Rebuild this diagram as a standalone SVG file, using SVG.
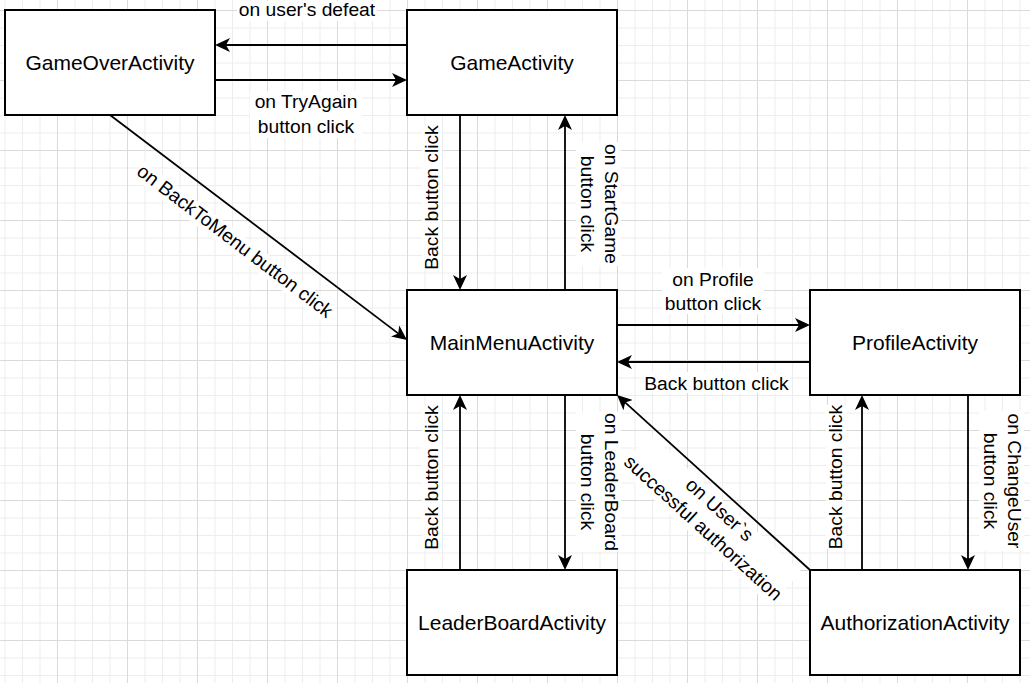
<svg xmlns="http://www.w3.org/2000/svg" width="1030" height="683" viewBox="0 0 1030 683">
<style>
.box{fill:#ffffff;stroke:#000000;stroke-width:2}
.nt{font-family:"Liberation Sans",Arial,sans-serif;font-size:21px;fill:#000000;text-anchor:middle}
.et{font-family:"Liberation Sans",Arial,sans-serif;font-size:19.25px;fill:#000000;text-anchor:middle}
.edge{fill:none;stroke:#000000;stroke-width:1.8}
.lbg{fill:#ffffff}
</style>
<defs>
<pattern id="grid" x="57" y="10" width="70" height="70" patternUnits="userSpaceOnUse">
<path d="M18,0V70M35.5,0V70M53,0V70M0,18H70M0,35.5H70M0,53H70" stroke="#ededed" stroke-width="1" fill="none"/>
<path d="M0.5,0V70M0,0.5H70" stroke="#dadada" stroke-width="1" fill="none"/>
</pattern>
<marker id="arr" markerUnits="userSpaceOnUse" viewBox="0 0 15 14" markerWidth="15" markerHeight="14" refX="6" refY="7" orient="auto">
<path d="M15,7L0,0L4,7L0,14Z" fill="#000000"/>
</marker>
</defs>
<rect width="1030" height="683" fill="#ffffff"/>
<rect width="1030" height="683" fill="url(#grid)"/>

<g id="connectors">
<path class="edge" d="M407,45H224" marker-end="url(#arr)"/>
<path class="edge" d="M215,80H398" marker-end="url(#arr)"/>
<path class="edge" d="M460,115V281" marker-end="url(#arr)"/>
<path class="edge" d="M565,290V124" marker-end="url(#arr)"/>
<path class="edge" d="M110,115L399.8,334.6" marker-end="url(#arr)"/>
<path class="edge" d="M617,325H801" marker-end="url(#arr)"/>
<path class="edge" d="M810,362H626" marker-end="url(#arr)"/>
<path class="edge" d="M460,570V404" marker-end="url(#arr)"/>
<path class="edge" d="M565,395V561" marker-end="url(#arr)"/>
<path class="edge" d="M810,570L623.7,401.1" marker-end="url(#arr)"/>
<path class="edge" d="M862,570V404" marker-end="url(#arr)"/>
<path class="edge" d="M968,395V561" marker-end="url(#arr)"/>

<g id="label-defeat">
<rect class="lbg" x="237" y="1" width="140" height="20"/>
<text class="et" x="307" y="16">on user's defeat</text>
</g>
<g id="label-tryagain">
<rect class="lbg" x="250" y="91" width="112" height="47"/>
<text class="et" x="306" y="108">on TryAgain</text>
<text class="et" x="306" y="132.5">button click</text>
</g>
<g id="label-back1" transform="translate(438,197.5) rotate(-90)">
<rect class="lbg" x="-72" y="-16" width="144" height="20"/>
<text class="et" x="0" y="0">Back button click</text>
</g>
<g id="label-startgame" transform="translate(605,204) rotate(90)">
<rect class="lbg" x="-62" y="-16" width="124" height="45"/>
<text class="et" x="0" y="0">on StartGame</text>
<text class="et" x="0" y="24.5">button click</text>
</g>
<g id="label-backtomenu" transform="translate(235,241) rotate(37.2)">
<rect class="lbg" x="-121" y="-9" width="242" height="20"/>
<text class="et" x="0" y="6.5">on BackToMenu button click</text>
</g>
<g id="label-profile">
<rect class="lbg" x="662" y="268" width="102" height="46"/>
<text class="et" x="713" y="286">on Profile</text>
<text class="et" x="713" y="310">button click</text>
</g>
<g id="label-back2">
<rect class="lbg" x="643" y="372" width="147" height="21"/>
<text class="et" x="716.5" y="390">Back button click</text>
</g>
<g id="label-back3" transform="translate(438,477.5) rotate(-90)">
<rect class="lbg" x="-72" y="-16" width="144" height="20"/>
<text class="et" x="0" y="0">Back button click</text>
</g>
<g id="label-leaderboard" transform="translate(605,482) rotate(90)">
<rect class="lbg" x="-70" y="-16" width="140" height="45"/>
<text class="et" x="0" y="0">on LeaderBoard</text>
<text class="et" x="0" y="24.5">button click</text>
</g>
<g id="label-auth" transform="translate(711.5,518.5) rotate(42.2)">
<rect class="lbg" x="-102" y="-21" width="204" height="46"/>
<text class="et" x="0" y="-5.5">on User`s</text>
<text class="et" x="0" y="19">successful authorization</text>
</g>
<g id="label-back4" transform="translate(842,477) rotate(-90)">
<rect class="lbg" x="-72" y="-16" width="144" height="20"/>
<text class="et" x="0" y="0">Back button click</text>
</g>
<g id="label-changeuser" transform="translate(1008,481) rotate(90)">
<rect class="lbg" x="-70" y="-16" width="140" height="45"/>
<text class="et" x="0" y="0">on ChangeUser</text>
<text class="et" x="0" y="24.5">button click</text>
</g>
</g>

<g id="GameOverActivity">
<rect class="box" x="5" y="10" width="210" height="105"/>
<text class="nt" x="110" y="70">GameOverActivity</text>
</g>
<g id="GameActivity">
<rect class="box" x="407" y="10" width="210" height="105"/>
<text class="nt" x="512" y="70">GameActivity</text>
</g>
<g id="MainMenuActivity">
<rect class="box" x="407" y="290" width="210" height="105"/>
<text class="nt" x="512" y="350">MainMenuActivity</text>
</g>
<g id="ProfileActivity">
<rect class="box" x="810" y="290" width="210" height="105"/>
<text class="nt" x="915" y="350">ProfileActivity</text>
</g>
<g id="LeaderBoardActivity">
<rect class="box" x="407" y="570" width="210" height="105"/>
<text class="nt" x="512" y="630">LeaderBoardActivity</text>
</g>
<g id="AuthorizationActivity">
<rect class="box" x="810" y="570" width="210" height="105"/>
<text class="nt" x="915" y="630">AuthorizationActivity</text>
</g>
</svg>
